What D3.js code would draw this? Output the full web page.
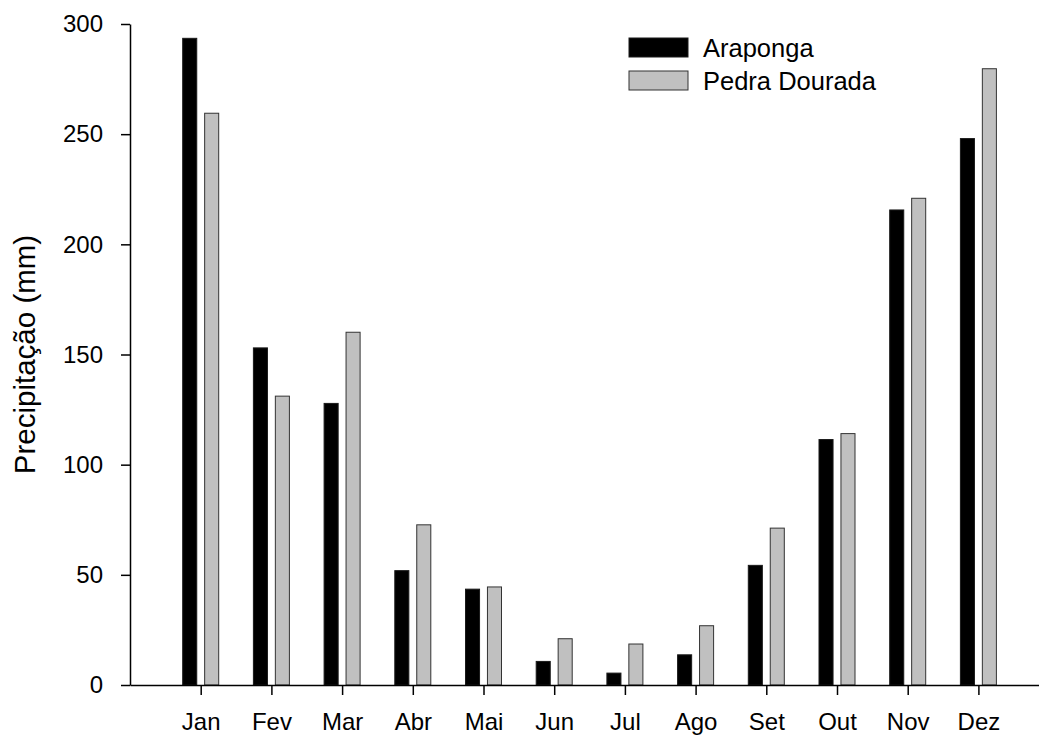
<!DOCTYPE html>
<html>
<head>
<meta charset="utf-8">
<script src="https://cdn.jsdelivr.net/npm/d3@7"></script>
<style>
  html, body { margin: 0; padding: 0; background: #fff; }
  svg { display: block; font-family: "Liberation Sans", Arial, Helvetica, sans-serif; }
</style>
</head>
<body>
<svg id="chart" width="1039" height="735"></svg>
<script>
// Monthly precipitation (mm) at two sites
const months = ["Jan", "Fev", "Mar", "Abr", "Mai", "Jun", "Jul", "Ago", "Set", "Out", "Nov", "Dez"];
const seriesNames = ["Araponga", "Pedra Dourada"];
const araponga = [293.5, 153, 127.8, 51.9, 43.5, 10.7, 5.4, 13.7, 54.3, 111.4, 215.6, 248.0];
const pedraDourada = [259.5, 131.1, 160.1, 72.7, 44.5, 21.0, 18.6, 26.9, 71.2, 114.1, 220.9, 279.7];
const yTicks = [0, 50, 100, 150, 200, 250, 300];
const colors = ["#000000", "#c0c0c0"];
const strokes = ["#1a1a1a", "#333333"];

const svg = d3.select("#chart");
const plotLeft = 130, plotTop = 24, plotBottom = 685;

// x: month positions 1..12 on a 0..13 linear axis
const x = d3.scaleLinear().domain([0, 13]).range([plotLeft, plotLeft + 13 * 70.7]);
const y = d3.scaleLinear().domain([0, 300]).range([plotBottom, plotTop]);
const xSub = d3.scaleBand().domain(seriesNames).range([-18, 18]).paddingInner(0.36);

const data = months.map((m, i) => ({
  month: m,
  idx: i + 1,
  values: [araponga[i], pedraDourada[i]]
}));

// bars
const groups = svg.append("g").selectAll("g")
  .data(data).join("g")
  .attr("transform", d => `translate(${x(d.idx)},0)`);

groups.selectAll("rect")
  .data(d => d.values.map((v, k) => ({ name: seriesNames[k], v, k })))
  .join("rect")
  .attr("x", d => xSub(d.name))
  .attr("width", xSub.bandwidth())
  .attr("y", d => y(d.v))
  .attr("height", d => y(0) - y(d.v))
  .attr("fill", d => colors[d.k])
  .attr("stroke", d => strokes[d.k])
  .attr("stroke-width", 1);

// x axis
const xAxis = d3.axisBottom(x)
  .tickValues(d3.range(1, 13))
  .tickFormat(i => months[i - 1])
  .tickSize(10)
  .tickSizeOuter(0);
const gx = svg.append("g").attr("transform", `translate(0,${plotBottom})`).call(xAxis);
gx.select(".domain").attr("stroke", "#000").attr("stroke-width", 1.5);
gx.selectAll(".tick line").attr("stroke", "#000").attr("stroke-width", 1.5);
gx.selectAll(".tick text")
  .attr("y", 45).attr("dy", 0)
  .attr("font-size", 24).attr("fill", "#000")
  .attr("font-family", "Liberation Sans, Arial, sans-serif");

// y axis
const yAxis = d3.axisLeft(y)
  .tickValues(yTicks)
  .tickSize(9)
  .tickPadding(18)
  .tickSizeOuter(0);
const gy = svg.append("g").attr("transform", `translate(${plotLeft},0)`).call(yAxis);
gy.select(".domain").attr("stroke", "#000").attr("stroke-width", 1.5);
gy.selectAll(".tick line").attr("stroke", "#000").attr("stroke-width", 1.5);
gy.selectAll(".tick text")
  .attr("font-size", 24).attr("fill", "#000")
  .attr("font-family", "Liberation Sans, Arial, sans-serif");

// y title
svg.append("text")
  .attr("transform", `translate(35,${(plotTop + plotBottom) / 2}) rotate(-90)`)
  .attr("text-anchor", "middle")
  .attr("font-size", 29.5)
  .attr("fill", "#000")
  .text("Precipitação (mm)");

// legend
const legend = svg.append("g").attr("transform", "translate(629,38)");
seriesNames.forEach((name, k) => {
  const g = legend.append("g").attr("transform", `translate(0,${k * 33})`);
  g.append("rect")
    .attr("width", 59).attr("height", 19)
    .attr("fill", colors[k]).attr("stroke", strokes[k]).attr("stroke-width", 1);
  g.append("text")
    .attr("x", 74).attr("y", 18.5)
    .attr("font-size", 25.5).attr("fill", "#000")
    .text(name);
});
</script>
</body>
</html>
